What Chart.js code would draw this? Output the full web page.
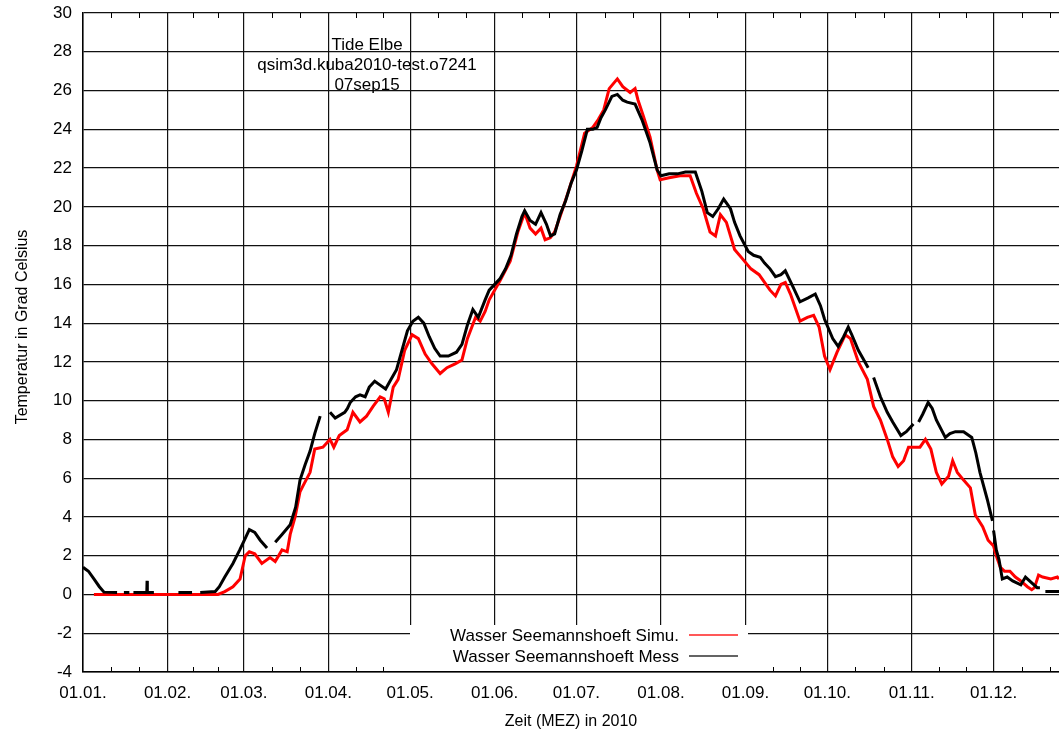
<!DOCTYPE html>
<html>
<head>
<meta charset="utf-8">
<script src="https://cdn.jsdelivr.net/npm/chart.js@4/dist/chart.umd.min.js"></script>
<style>
  html, body { margin: 0; padding: 0; background: #fff; }
  #myChart { display: block; }
</style>
</head>
<body>
<canvas id="myChart" width="1059" height="731"></canvas>
<script>
// x values are days since 01.01.2010
const monthStarts = [0, 31, 59, 90, 120, 151, 181, 212, 243, 273, 304, 334, 365];
const monthLabels = ['01.01.', '01.02.', '01.03.', '01.04.', '01.05.', '01.06.', '01.07.', '01.08.', '01.09.', '01.10.', '01.11.', '01.12.'];
const yTicks = [-4, -2, 0, 2, 4, 6, 8, 10, 12, 14, 16, 18, 20, 22, 24, 26, 28, 30];

const titleLines = ['Tide Elbe', 'qsim3d.kuba2010-test.o7241', '07sep15'];
const seriesNames = ['Wasser Seemannshoeft Simu.', 'Wasser Seemannshoeft Mess'];

// Simulation (red)
const simDays = [4, 49.5, 52, 55, 57.6, 59.5, 61, 63, 65.6, 68.6, 70.5, 73, 74.9, 76, 77.8, 79.6, 80.7, 83.3, 85, 88,
  90.6, 92, 94, 96.9, 99, 101.6, 104, 106.4, 109, 110.5, 112, 113.8, 115.6, 118, 120.7, 123, 125.5, 128, 131, 133.5,
  136.5, 139, 141, 144, 145.7, 147.5, 149, 153, 156.7, 159.5, 162, 164, 166, 168, 169.5, 171.4, 173, 175, 177.6, 181,
  184, 187, 189, 191, 193, 196, 198, 200.7, 202.5, 203.6, 205.5, 208, 210.6, 211.7, 215, 219, 222.7, 225, 227.5, 230,
  232, 233.8, 236, 239, 242, 245, 248, 250, 252, 254, 256, 257.6, 259.5, 263, 265.7, 268, 270, 272, 274, 276.6,
  279.6, 281.5, 284.4, 287.7, 290, 292.5, 295, 297, 299, 301, 302.8, 305, 307, 309, 311, 313, 315, 317.5, 319, 320.7,
  323, 325.5, 327.3, 330, 332, 334, 335, 336.5, 338, 340, 342, 344, 346.4, 348, 349, 350.5, 352, 355, 357.4, 358];
const simTemp = [0, 0, 0.15, 0.4, 0.8, 2.0, 2.2, 2.1, 1.6, 1.9, 1.7, 2.3, 2.2, 3.1, 4.0, 5.3, 5.6, 6.3, 7.5, 7.6,
  8.0, 7.6, 8.2, 8.5, 9.4, 8.9, 9.2, 9.7, 10.2, 10.1, 9.4, 10.7, 11.1, 12.6, 13.4, 13.2, 12.4, 11.9, 11.4, 11.7,
  11.9, 12.1, 13.2, 14.3, 14.1, 14.6, 15.2, 16.2, 17.2, 18.7, 19.7, 18.9, 18.6, 18.9, 18.3, 18.4, 18.7, 19.5, 20.6, 22.1,
  23.8, 24.1, 24.5, 25.0, 26.1, 26.6, 26.2, 25.9, 26.1, 25.5, 24.7, 23.6, 21.9, 21.4, 21.5, 21.6, 21.6, 20.7, 19.9, 18.7,
  18.5, 19.6, 19.2, 17.8, 17.3, 16.8, 16.5, 16.1, 15.7, 15.4, 16.0, 16.1, 15.5, 14.1, 14.3, 14.4, 13.8, 12.3, 11.6, 12.5,
  13.4, 13.2, 12.0, 11.1, 9.7, 9.0, 8.0, 7.1, 6.6, 6.9, 7.6, 7.6, 7.6, 8.0, 7.5, 6.3, 5.7, 6.1, 6.9, 6.3,
  5.9, 5.5, 4.1, 3.5, 2.8, 2.5, 2.0, 1.4, 1.2, 1.2, 0.9, 0.7, 0.4, 0.25, 0.35, 1.0, 0.9, 0.8, 0.9, 0.8];

// Measurement (black), null = gap in the record
const messDays = [0, 2, 4, 6, 7.7, 12.5, 13, 15, 17, 17.5, 18.5, 23.4, 23.5, 23.6, 26, 26.5, 35, 40, 40.5, 43,
  48.5, 50, 52, 55, 57.5, 59.5, 61, 63, 65, 67.5, 68, 70.5, 73, 76, 78, 79.6, 81.5, 83.3, 85, 87,
  88, 90.6, 92.5, 96, 97, 98, 100, 101.6, 103.5, 105, 107, 109, 111, 113, 115, 117, 119, 121, 123, 125,
  127, 129, 131, 134, 137, 139, 141, 143, 145, 147.5, 149, 151, 153, 155, 157, 159, 161, 162, 164, 166,
  168, 170, 171.5, 173, 175, 177, 179, 181, 183, 185, 187, 188.6, 190, 191.6, 194, 196, 198, 199.6, 202.5, 205,
  208, 210.6, 212, 215, 218, 221, 224.6, 227, 229, 231, 233, 235, 237.5, 239, 241, 244, 246, 248.4, 250, 252,
  254, 256, 257.6, 260, 263, 266, 268.6, 270.5, 272, 275, 277, 279, 280.7, 282, 284.4, 286, 288, 289, 290, 292.5,
  295, 297, 300, 302, 304.6, 305.5, 306.5, 308, 310, 311.5, 313, 316.3, 318, 320, 323, 326, 327.5, 329, 331.7, 333.6,
  333.8, 334, 335, 336, 337.2, 339, 341, 344, 345.7, 348, 350, 351, 352, 353, 358];
const messTemp = [1.4, 1.2, 0.8, 0.4, 0.12, 0.1, null, 0.1, 0.1, null, 0.1, 0.1, 0.7, 0.1, 0.1, null, 0.1, 0.1, null, 0.1,
  0.15, 0.4, 0.9, 1.6, 2.3, 2.9, 3.35, 3.2, 2.8, 2.4, null, 2.7, 3.1, 3.6, 4.5, 5.9, 6.7, 7.4, 8.3, 9.2,
  null, 9.4, 9.1, 9.4, 9.6, 9.9, 10.2, 10.3, 10.2, 10.7, 11.0, 10.8, 10.6, 11.1, 11.6, 12.6, 13.6, 14.1, 14.3, 14.0,
  13.3, 12.7, 12.3, 12.3, 12.5, 12.9, 13.9, 14.7, 14.3, 15.2, 15.7, 16.0, 16.3, 16.8, 17.5, 18.6, 19.5, 19.8, 19.3, 19.1,
  19.7, 19.1, 18.5, 18.6, 19.6, 20.3, 21.2, 21.9, 22.9, 24.0, 24.0, 24.1, 24.6, 25.0, 25.7, 25.8, 25.5, 25.4, 25.3, 24.5,
  23.3, 21.9, 21.6, 21.7, 21.7, 21.8, 21.8, 20.8, 19.7, 19.5, 19.9, 20.4, 19.9, 19.2, 18.5, 17.7, 17.5, 17.4, 17.1, 16.8,
  16.4, 16.5, 16.7, 16.0, 15.1, 15.3, 15.5, 14.9, 14.2, 13.2, 12.8, 13.3, 13.8, 13.4, 12.6, 12.2, 11.7, null, 11.2, 10.2,
  9.4, 8.9, 8.2, 8.4, 8.8, null, 8.9, 9.3, 9.9, 9.6, 9.0, 8.1, 8.3, 8.4, 8.4, 8.1, 7.3, 6.3, 4.9, 3.8,
  null, 3.3, 2.3, 1.8, 0.8, 0.9, 0.7, 0.5, 0.9, 0.6, 0.35, 0.35, null, 0.15, 0.15];

const FONT = 'Liberation Sans, Arial, sans-serif';

function toPoints(xs, ys) {
  return xs.map((x, i) => ({ x: x, y: ys[i] }));
}

// gnuplot-like decorations: inside minor ticks, title text, key box, y title
const decorations = {
  id: 'decorations',
  afterDatasetsDraw(chart) {
    const ctx = chart.ctx;
    const area = chart.chartArea;
    const xs = chart.scales.x;
    ctx.save();

    // minor ticks (thirds of each month)
    ctx.strokeStyle = '#000';
    ctx.lineWidth = 1;
    for (let i = 0; i < monthStarts.length - 1; i++) {
      const s = monthStarts[i], e = monthStarts[i + 1];
      [s + (e - s) / 3, s + 2 * (e - s) / 3].forEach(v => {
        const px = Math.round(xs.getPixelForValue(v)) + 0.5;
        if (px > area.right) return;
        ctx.beginPath();
        ctx.moveTo(px, area.bottom);
        ctx.lineTo(px, area.bottom - 5);
        ctx.moveTo(px, area.top);
        ctx.lineTo(px, area.top + 5);
        ctx.stroke();
      });
    }

    // title inside the plot
    ctx.fillStyle = '#000';
    ctx.font = '17px ' + FONT;
    ctx.textAlign = 'center';
    ctx.textBaseline = 'middle';
    titleLines.forEach((t, i) => ctx.fillText(t, 367, 45 + i * 20));

    // key
    ctx.fillStyle = '#fff';
    ctx.fillRect(410, 625, 338, 46);
    ctx.textAlign = 'right';
    const colors = ['#ff2020', '#303030'];
    seriesNames.forEach((name, i) => {
      const y = 636 + i * 21;
      ctx.fillStyle = '#000';
      ctx.fillText(name, 679, y);
      ctx.strokeStyle = colors[i];
      ctx.lineWidth = 1.5;
      ctx.beginPath();
      ctx.moveTo(689, y - 1);
      ctx.lineTo(738, y - 1);
      ctx.stroke();
    });

    // y axis title
    ctx.translate(23, 327);
    ctx.rotate(-Math.PI / 2);
    ctx.textAlign = 'center';
    ctx.fillStyle = '#000';
    ctx.font = '16px ' + FONT;
    ctx.fillText('Temperatur in Grad Celsius', 0, 0);
    ctx.restore();
  }
};

const ctx = document.getElementById('myChart').getContext('2d');
const myChart = new Chart(ctx, {
  type: 'line',
  data: {
    datasets: [{
      label: seriesNames[0],
      data: toPoints(simDays, simTemp),
      borderColor: '#ff0000',
      borderWidth: 3,
      pointRadius: 0,
      tension: 0,
      order: 1
    }, {
      label: seriesNames[1],
      data: toPoints(messDays, messTemp),
      borderColor: '#000000',
      borderWidth: 3,
      pointRadius: 0,
      tension: 0,
      spanGaps: false,
      order: 0
    }]
  },
  options: {
    responsive: false,
    animation: false,
    devicePixelRatio: 1,
    layout: { padding: { top: 13, right: 0, left: 0, bottom: 0 } },
    plugins: {
      legend: { display: false },
      tooltip: { enabled: false }
    },
    scales: {
      x: {
        type: 'linear',
        min: 0,
        max: 358,
        afterBuildTicks: scale => {
          scale.ticks = monthStarts.slice(0, 12).map(v => ({ value: v }));
        },
        afterFit: scale => {
          scale.height = 59;
          scale.paddingRight = 0;
        },
        ticks: {
          color: '#000',
          font: { family: FONT, size: 17 },
          padding: 11,
          maxRotation: 0,
          autoSkip: false,
          callback: (v) => monthLabels[monthStarts.indexOf(v)]
        },
        grid: { color: '#111', lineWidth: 1.2, drawTicks: false },
        border: { color: '#000', width: 1.5 },
        title: {
          display: true,
          text: 'Zeit (MEZ) in 2010',
          color: '#000',
          font: { family: FONT, size: 16 },
          padding: { top: 0, bottom: 0 }
        }
      },
      y: {
        min: -4,
        max: 30,
        afterBuildTicks: scale => {
          scale.ticks = yTicks.map(v => ({ value: v }));
        },
        afterFit: scale => {
          scale.width = 83;
          scale.paddingTop = 0;
          scale.paddingBottom = 0;
        },
        ticks: {
          color: '#000',
          font: { family: FONT, size: 17 },
          padding: 11
        },
        grid: { color: '#111', lineWidth: 1.2, drawTicks: false },
        border: { color: '#000', width: 1.5 }
      }
    }
  },
  plugins: [decorations]
});
</script>
</body>
</html>
